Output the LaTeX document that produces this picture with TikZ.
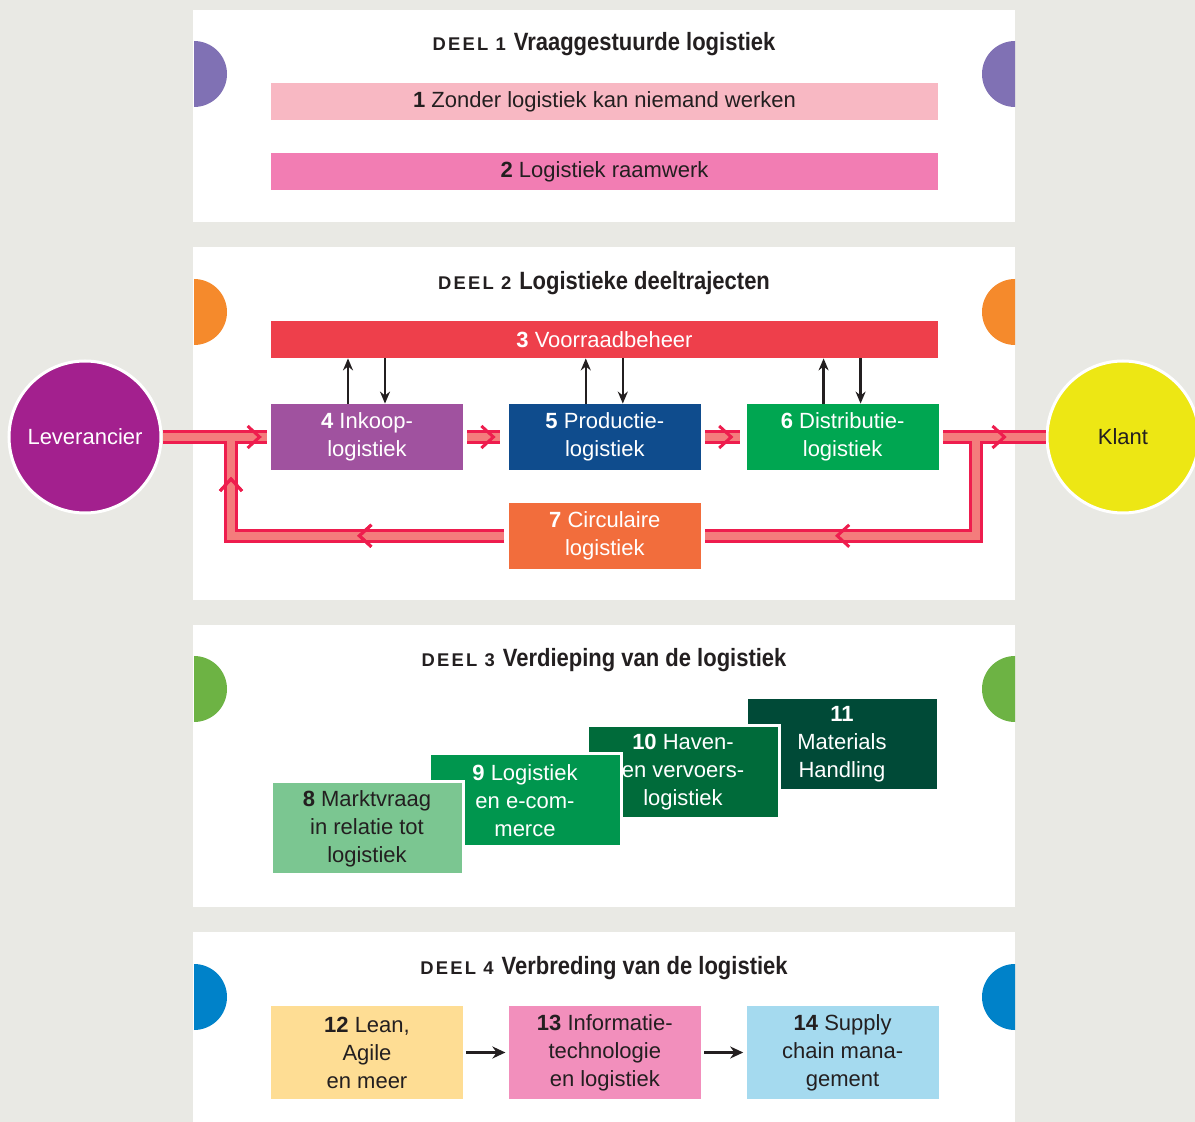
\documentclass[tikz,border=0pt]{standalone}
\usepackage{fontspec}
\setmainfont{Liberation Sans}
\newfontfamily\kopfont{Liberation Sans}[FakeStretch=0.88]
\usetikzlibrary{arrows.meta}
\usetikzlibrary{positioning}
\usetikzlibrary{decorations.markings}

\definecolor{achtergrond}{HTML}{E9E9E4}
\definecolor{donker}{HTML}{231F20}
\definecolor{paars}{HTML}{8071B4}
\definecolor{oranje}{HTML}{F58A2C}
\definecolor{groen}{HTML}{6DB344}
\definecolor{blauw}{HTML}{0082C9}
\definecolor{roze1}{HTML}{F8B8C3}
\definecolor{roze2}{HTML}{F27DB3}
\definecolor{rood3}{HTML}{EE3F4B}
\definecolor{paars4}{HTML}{A0529F}
\definecolor{blauw5}{HTML}{0F4C8D}
\definecolor{groen6}{HTML}{00A651}
\definecolor{oranje7}{HTML}{F26D3C}
\definecolor{groen8}{HTML}{7BC691}
\definecolor{groen9}{HTML}{00964E}
\definecolor{groen10}{HTML}{006B3A}
\definecolor{groen11}{HTML}{004A37}
\definecolor{geel12}{HTML}{FEDD94}
\definecolor{roze13}{HTML}{F28FBC}
\definecolor{blauw14}{HTML}{A5DAEF}
\definecolor{leverancier}{HTML}{A3208E}
\definecolor{klant}{HTML}{EDE714}
\definecolor{stroomrood}{HTML}{EE1D4E}
\definecolor{stroomroze}{HTML}{F47C7C}

\newcommand{\nr}[1]{\textbf{#1}}
\newcommand{\deel}[1]{{\fontspec{Liberation Sans}[LetterSpace=12]\bfseries\fontsize{9.2}{10}\selectfont DEEL #1}\hspace{4pt}}

\tikzstyle{stap} = [rectangle, minimum width=96pt, minimum height=33pt, inner sep=0pt, align=center, text=white, font=\fontsize{11}{14}\selectfont]
\tikzstyle{blok} = [stap, minimum height=46.5pt, draw=white, line width=1.5pt]
\tikzstyle{balk} = [rectangle, minimum width=333.5pt, minimum height=18.5pt, inner sep=0pt, text=donker, font=\fontsize{11}{14}\selectfont]
\tikzstyle{kop} = [text=donker, inner sep=0pt, font=\kopfont\bfseries\fontsize{12.5}{14}\selectfont]
\tikzstyle{partij} = [circle, minimum size=76pt, inner sep=0pt, draw=white, line width=1.5pt, font=\fontsize{11}{14}\selectfont]
\tikzstyle{arrow} = [line width=1.3pt, draw=donker, -{Stealth[length=6pt,width=5pt]}]
\tikzstyle{pijl} = [line width=1.6pt, draw=donker, -{Stealth[length=6.5pt,width=6pt]}]
\tikzstyle{stroom} = [line width=7pt, draw=stroomrood]
\tikzstyle{kern} = [line width=4pt, draw=stroomroze]
\tikzstyle{chevron} = [line width=1.5pt, draw=stroomrood]
\tikzstyle{haak} = [postaction={decorate}, decoration={markings, mark=at position #1 with {\draw[chevron] (-6pt,-5.5pt) -- (0,0) -- (-6pt,5.5pt);}}]

\begin{document}
\begin{tikzpicture}[x=0.5pt, y=-0.5pt]

\fill[achtergrond] (0,0) rectangle (1195,1122);
\useasboundingbox (0,0) rectangle (1195,1122);

% panels
\fill[white] (193,10) rectangle (1015,222);
\fill[white] (193,247) rectangle (1015,600);
\fill[white] (193,625) rectangle (1015,907);
\fill[white] (193,932) rectangle (1015,1122);

% half circles
\foreach \y/\c in {41/paars, 279/oranje, 656/groen, 964/blauw} {
  \fill[\c] (194,\y) arc[start angle=90, end angle=-90, radius=16.5pt] -- cycle;
  \fill[\c] (1015,\y) arc[start angle=90, end angle=270, radius=16.5pt] -- cycle;
}

% deel 1
\node [kop] (kop1) at (604,44) {\deel{1}Vraaggestuurde logistiek};
\node [balk, fill=roze1] (b1) at (604.5,102) {\nr{1} Zonder logistiek kan niemand werken};
\node [balk, fill=roze2] (b2) at (604.5,172) {\nr{2} Logistiek raamwerk};

% deel 2
\node [kop] (kop2) at (604,283) {\deel{2}Logistieke deeltrajecten};
\node [balk, fill=rood3, text=white] (b3) at (604.5,339.5) {\nr{3} Voorraadbeheer};
\node [stap, fill=paars4] (b4) at (367,437) {\nr{4} Inkoop-\\logistiek};
\node [stap, fill=blauw5, right=22.5pt of b4] (b5) {\nr{5} Productie-\\logistiek};
\node [stap, fill=groen6, right=22.5pt of b5] (b6) {\nr{6} Distributie-\\logistiek};
\node [stap, fill=oranje7, below=16pt of b5] (b7) {\nr{7} Circulaire\\logistiek};
\node [partij, fill=leverancier, text=white] (lev) at (85,437) {Leverancier};
\node [partij, fill=klant, text=donker] (klant) at (1123,437) {Klant};

\foreach \b in {b4,b5,b6} {
  \draw [arrow] ([xshift=-9.5pt]\b.north) -- ([xshift=-9.5pt]\b.north |- b3.south);
  \draw [arrow] ([xshift=9pt]\b.north |- b3.south) -- ([xshift=9pt]\b.north);
}

\coordinate (jl) at (231,437);
\coordinate (jr) at (976,437);

\draw [stroom] (lev.east) -- ([xshift=-2pt]b4.west);
\draw [stroom] ([xshift=2pt]b4.east) -- ([xshift=-4pt]b5.west);
\draw [stroom] ([xshift=2pt]b5.east) -- ([xshift=-3pt]b6.west);
\draw [stroom] ([xshift=2pt]b6.east) -- (klant.west);
\draw [stroom] (jr) |- ([xshift=2pt]b7.east);
\draw [stroom] ([xshift=-2pt]b7.west) -| (jl);

\draw [kern, haak=-3.5pt] (lev.east) -- ([xshift=-2pt]b4.west);
\draw [kern, haak=-3.5pt] ([xshift=2pt]b4.east) -- ([xshift=-4pt]b5.west);
\draw [kern, haak=-4.5pt] ([xshift=2pt]b5.east) -- ([xshift=-3pt]b6.west);
\draw [kern, haak=-20.5pt] ([xshift=2pt]b6.east) -- (klant.west);
\draw [kern, haak=-66pt] (jr) |- ([xshift=2pt]b7.east);
\draw [kern, haak=72.5pt, haak=-21pt] ([xshift=-2pt]b7.west) -| (jl);

% deel 3
\node [kop] (kop3) at (604,660) {\deel{3}Verdieping van de logistiek};
\node [blok, fill=groen11] (b11) at (842,744.5) {\nr{11}\\Materials\\Handling};
\node [blok, fill=groen10] (b10) at (683,772.5) {\nr{10} Haven-\\en vervoers-\\logistiek};
\node [blok, fill=groen9] (b9) at (525,800.5) {\nr{9} Logistiek\\en e-com-\\merce};
\node [blok, fill=groen8, text=donker] (b8) at (367,828.5) {\nr{8} Marktvraag\\in relatie tot\\logistiek};

% deel 4
\node [kop] (kop4) at (604,968) {\deel{4}Verbreding van de logistiek};
\node [stap, minimum height=46.5pt, fill=geel12, text=donker] (b12) at (367,1052.5) {\nr{12} Lean,\\Agile\\en meer};
\node [stap, minimum height=46.5pt, fill=roze13, text=donker, right=22.5pt of b12] (b13) {\nr{13} Informatie-\\technologie\\en logistiek};
\node [stap, minimum height=46.5pt, fill=blauw14, text=donker, right=22.5pt of b13] (b14) {\nr{14} Supply\\chain mana-\\gement};

\draw [pijl] ([xshift=1.5pt]b12.east) -- ([xshift=-1.5pt]b13.west);
\draw [pijl] ([xshift=1.5pt]b13.east) -- ([xshift=-1.5pt]b14.west);

\end{tikzpicture}
\end{document}
